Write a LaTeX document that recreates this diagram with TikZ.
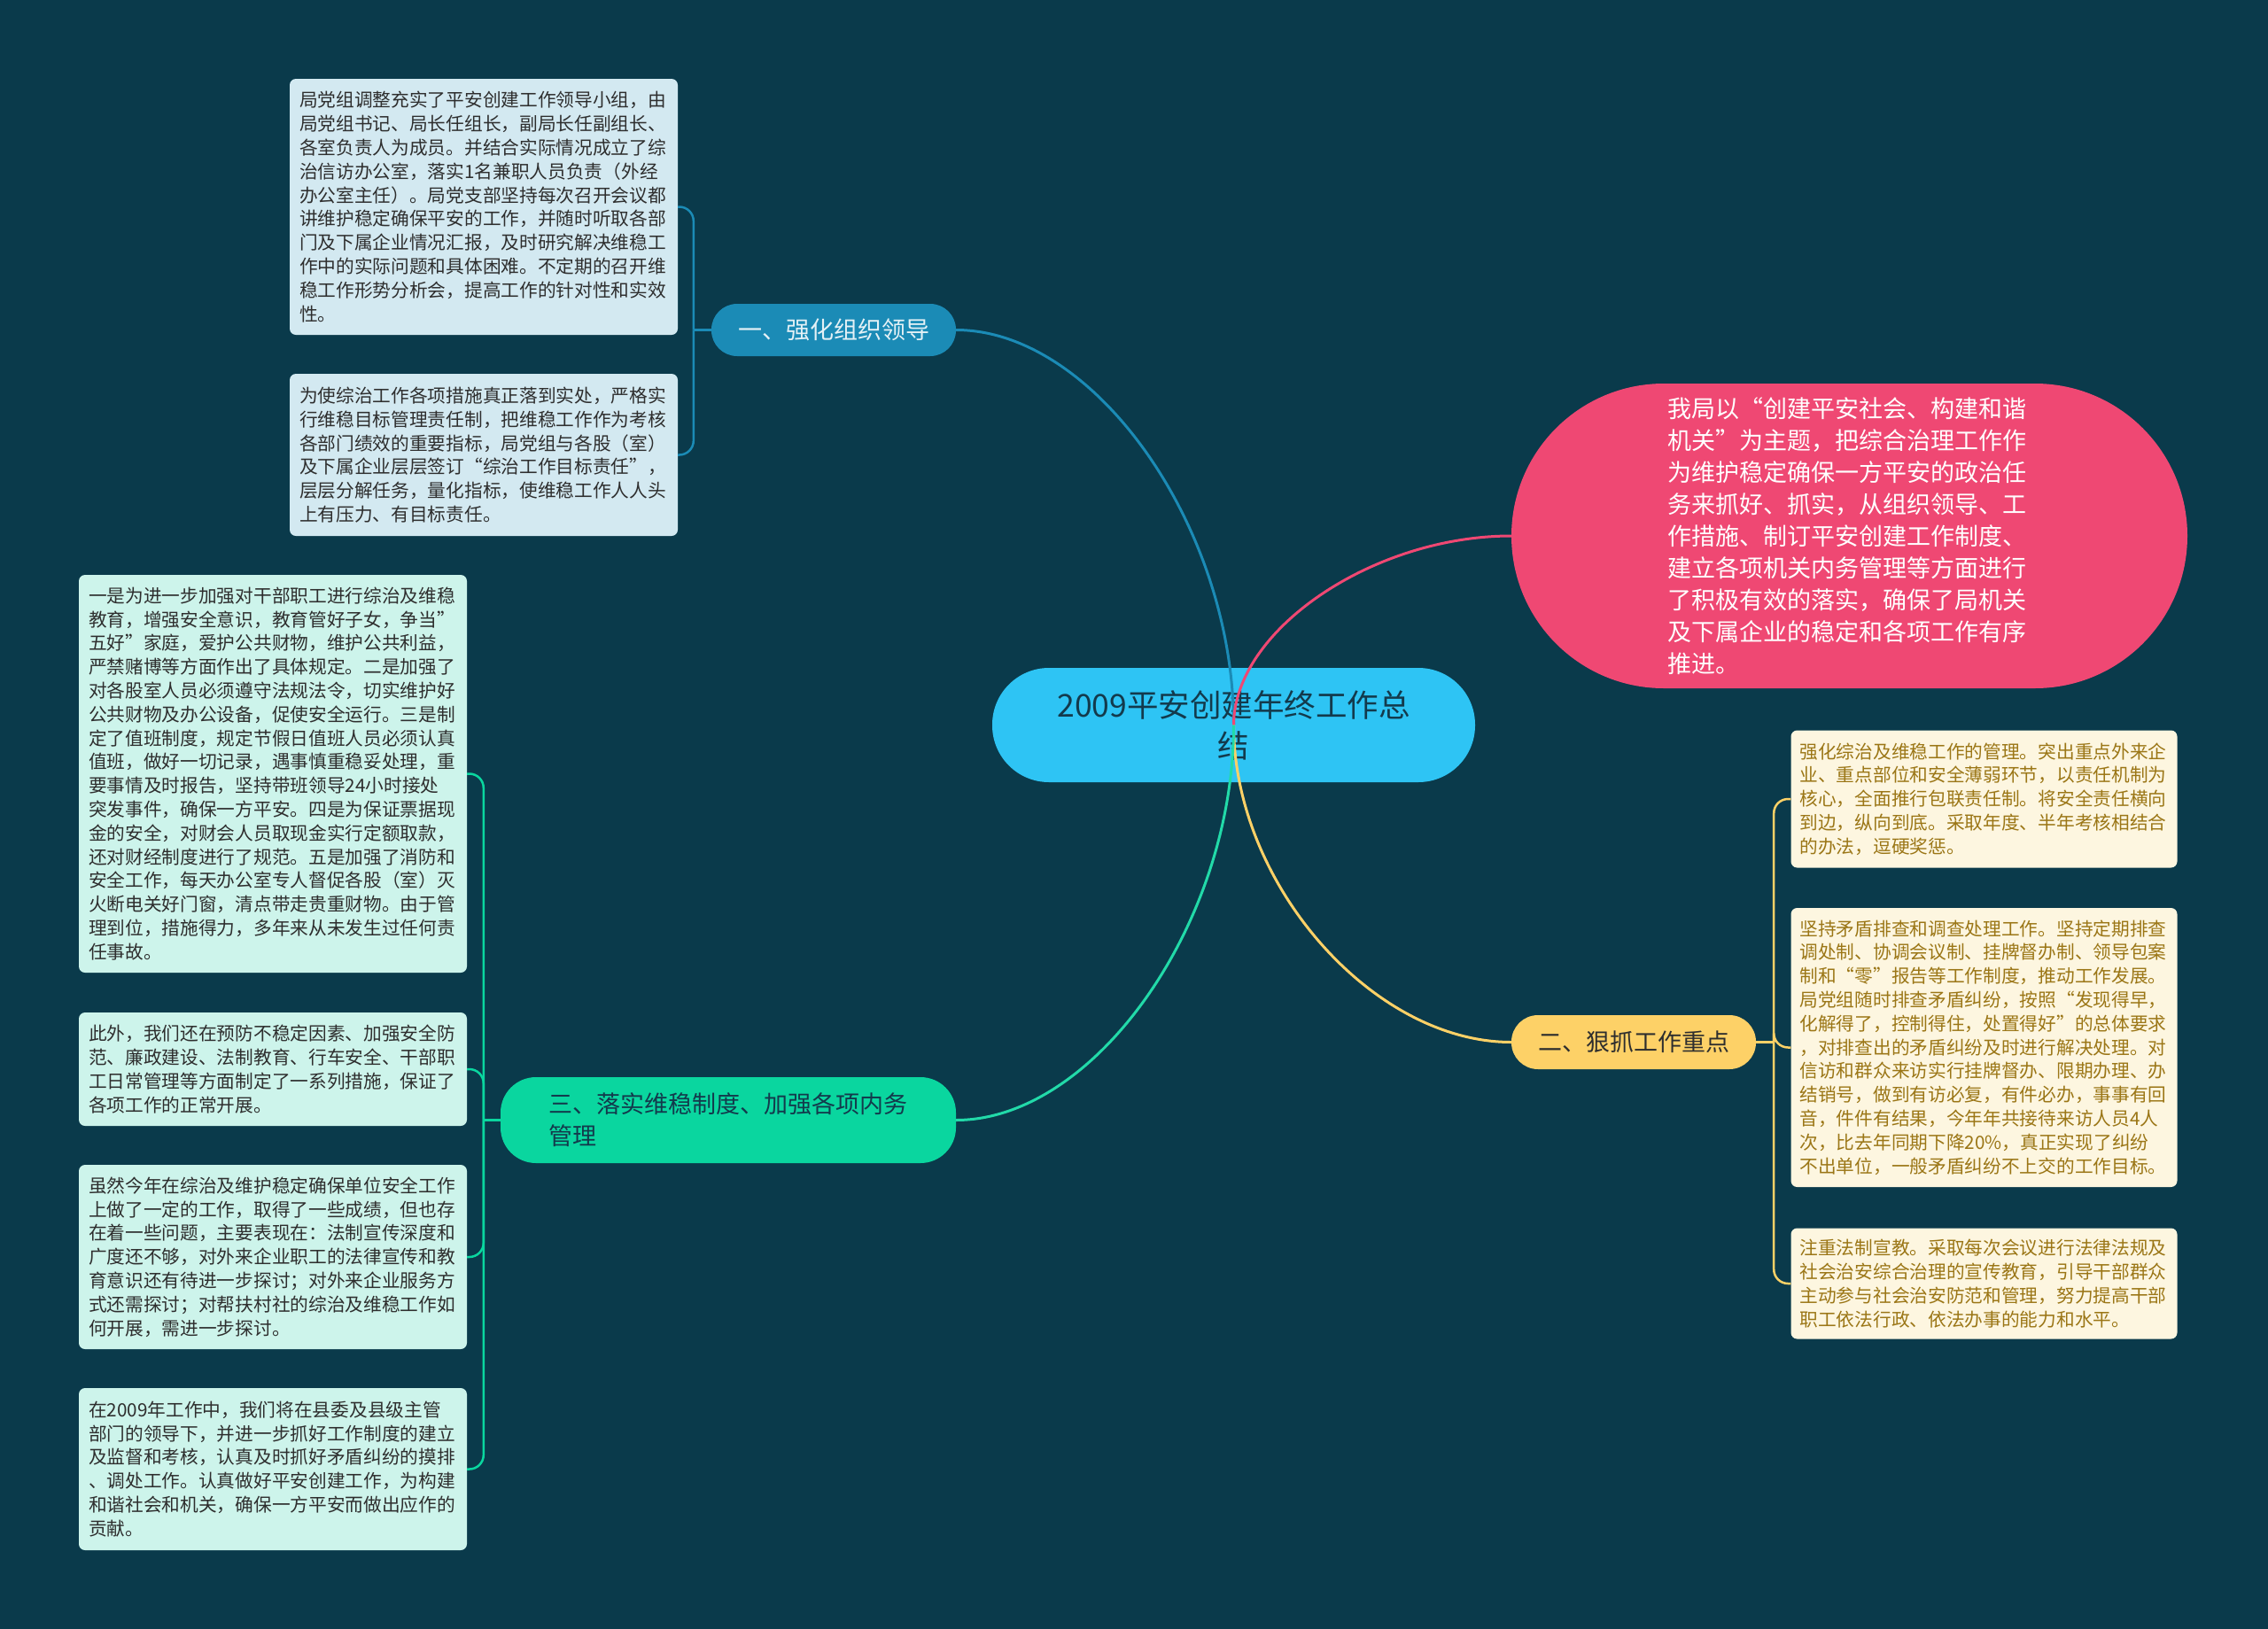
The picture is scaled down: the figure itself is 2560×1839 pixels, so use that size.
\documentclass[tikz,border=0pt]{standalone}
\usepackage{fontspec}
\setmainfont{Noto Sans CJK SC}
\usepackage{tikz}
\usetikzlibrary{calc}
\definecolor{bgnavy}{HTML}{0A3A4B}
\definecolor{hubcyan}{HTML}{2EC4F4}
\definecolor{hubtext}{HTML}{133A4C}
\definecolor{introred}{HTML}{EF4873}
\definecolor{topicblue}{HTML}{1B8BB6}
\definecolor{topicyellow}{HTML}{FDD167}
\definecolor{topicgreen}{HTML}{0AD69F}
\definecolor{leafblue}{HTML}{D3E9F1}
\definecolor{leafmint}{HTML}{CDF4EB}
\definecolor{leafcream}{HTML}{FDF6E0}
\definecolor{leaftext}{HTML}{2E2E2E}
\definecolor{creamtext}{HTML}{9B7616}

\begin{document}
\begin{tikzpicture}[x=1pt,y=-1pt,
  every node/.style={inner sep=0pt},
  hubnode/.style={fill=hubcyan,text=hubtext,rounded corners=64pt,minimum width=545pt,minimum height=129pt,align=center,font=\fontsize{35.5}{46}\selectfont},
  pillred/.style={fill=introred,text=white,rounded corners=172pt,minimum width=763pt,minimum height=344pt,text width=410pt,align=left,font=\fontsize{27}{36}\selectfont},
  topicbox/.style={font=\fontsize{27}{36}\selectfont},
  leaf/.style={rounded corners=7pt,minimum width=438pt,text width=416pt,align=left,font=\fontsize{20.7}{26.8}\selectfont},
  twig/.style={line width=2.5pt},
]
\newcommand{\branchline}[3]{\draw[line width=3pt,#1] (#2) .. controls ($(#2)!0.5!(#2 -| #3)$) and ($(#3)!0.5!(#3 |- #2)$) .. (#3);}
\fill[bgnavy] (0,0) rectangle (2560,1839);
\useasboundingbox (0,0) rectangle (2560,1839);

% centre and first level
\node[hubnode] (hub) at (1392.5,818.5) {2009平安创建年终工作总\\结};
\node[pillred] (intro) at (2087.5,605) {我局以“创建平安社会、构建和谐\\机关”为主题，把综合治理工作作\\为维护稳定确保一方平安的政治任\\务来抓好、抓实，从组织领导、工\\作措施、制订平安创建工作制度、\\建立各项机关内务管理等方面进行\\了积极有效的落实，确保了局机关\\及下属企业的稳定和各项工作有序\\推进。};
\node[topicbox,fill=topicblue,text=white!88!topicblue,minimum width=276pt,minimum height=59pt,rounded corners=29pt] (t1) at (941,372.5) {一、强化组织领导};
\node[topicbox,fill=topicyellow,text=leaftext,minimum width=276pt,minimum height=61pt,rounded corners=30pt] (t2) at (1844,1176.5) {二、狠抓工作重点};
\node[topicbox,fill=topicgreen,text=hubtext,minimum width=514pt,minimum height=97pt,rounded corners=40pt,text width=405pt,align=left] (t3) at (822,1264.5) {三、落实维稳制度、加强各项内务\\管理};

% leaves of t1
\node[leaf,fill=leafblue,text=leaftext,minimum height=289pt] (l1a) at (546,233.5) {局党组调整充实了平安创建工作领导小组，由\\局党组书记、局长任组长，副局长任副组长、\\各室负责人为成员。并结合实际情况成立了综\\治信访办公室，落实1名兼职人员负责（外经\\办公室主任）。局党支部坚持每次召开会议都\\讲维护稳定确保平安的工作，并随时听取各部\\门及下属企业情况汇报，及时研究解决维稳工\\作中的实际问题和具体困难。不定期的召开维\\稳工作形势分析会，提高工作的针对性和实效\\性。};
\node[leaf,fill=leafblue,text=leaftext,minimum height=183pt] (l1b) at (546,513.5) {为使综治工作各项措施真正落到实处，严格实\\行维稳目标管理责任制，把维稳工作作为考核\\各部门绩效的重要指标，局党组与各股（室）\\及下属企业层层签订“综治工作目标责任”，\\层层分解任务，量化指标，使维稳工作人人头\\上有压力、有目标责任。};

% leaves of t2
\node[leaf,fill=leafcream,text=creamtext,minimum width=436pt,minimum height=155pt] (r1) at (2239.5,902) {强化综治及维稳工作的管理。突出重点外来企\\业、重点部位和安全薄弱环节，以责任机制为\\核心，全面推行包联责任制。将安全责任横向\\到边，纵向到底。采取年度、半年考核相结合\\的办法，逗硬奖惩。};
\node[leaf,fill=leafcream,text=creamtext,minimum width=436pt,minimum height=315pt] (r2) at (2239.5,1182.5) {坚持矛盾排查和调查处理工作。坚持定期排查\\调处制、协调会议制、挂牌督办制、领导包案\\制和“零”报告等工作制度，推动工作发展。\\局党组随时排查矛盾纠纷，按照“发现得早，\\化解得了，控制得住，处置得好”的总体要求\\，对排查出的矛盾纠纷及时进行解决处理。对\\信访和群众来访实行挂牌督办、限期办理、办\\结销号，做到有访必复，有件必办，事事有回\\音，件件有结果，今年年共接待来访人员4人\\次，比去年同期下降20\%，真正实现了纠纷\\不出单位，一般矛盾纠纷不上交的工作目标。};
\node[leaf,fill=leafcream,text=creamtext,minimum width=436pt,minimum height=125pt] (r3) at (2239.5,1449) {注重法制宣教。采取每次会议进行法律法规及\\社会治安综合治理的宣传教育，引导干部群众\\主动参与社会治安防范和管理，努力提高干部\\职工依法行政、依法办事的能力和水平。};

% leaves of t3
\node[leaf,fill=leafmint,text=leaftext,minimum height=449pt] (l3a) at (308,873.5) {一是为进一步加强对干部职工进行综治及维稳\\教育，增强安全意识，教育管好子女，争当”\\五好”家庭，爱护公共财物，维护公共利益，\\严禁赌博等方面作出了具体规定。二是加强了\\对各股室人员必须遵守法规法令，切实维护好\\公共财物及办公设备，促使安全运行。三是制\\定了值班制度，规定节假日值班人员必须认真\\值班，做好一切记录，遇事慎重稳妥处理，重\\要事情及时报告，坚持带班领导24小时接处\\突发事件，确保一方平安。四是为保证票据现\\金的安全，对财会人员取现金实行定额取款，\\还对财经制度进行了规范。五是加强了消防和\\安全工作，每天办公室专人督促各股（室）灭\\火断电关好门窗，清点带走贵重财物。由于管\\理到位，措施得力，多年来从未发生过任何责\\任事故。};
\node[leaf,fill=leafmint,text=leaftext,minimum height=128pt] (l3b) at (308,1207) {此外，我们还在预防不稳定因素、加强安全防\\范、廉政建设、法制教育、行车安全、干部职\\工日常管理等方面制定了一系列措施，保证了\\各项工作的正常开展。};
\node[leaf,fill=leafmint,text=leaftext,minimum height=208pt] (l3c) at (308,1419) {虽然今年在综治及维护稳定确保单位安全工作\\上做了一定的工作，取得了一些成绩，但也存\\在着一些问题，主要表现在：法制宣传深度和\\广度还不够，对外来企业职工的法律宣传和教\\育意识还有待进一步探讨；对外来企业服务方\\式还需探讨；对帮扶村社的综治及维稳工作如\\何开展，需进一步探讨。};
\node[leaf,fill=leafmint,text=leaftext,minimum height=183pt] (l3d) at (308,1658.5) {在2009年工作中，我们将在县委及县级主管\\部门的领导下，并进一步抓好工作制度的建立\\及监督和考核，认真及时抓好矛盾纠纷的摸排\\、调处工作。认真做好平安创建工作，为构建\\和谐社会和机关，确保一方平安而做出应作的\\贡献。};

% brackets
\coordinate (j1) at ($(t1.west)+(-20,0)$);
\coordinate (j2) at ($(t2.east)+(20,0)$);
\coordinate (j3) at ($(t3.west)+(-19,0)$);
\draw[twig,topicblue] (t1.west) -- (j1);
\foreach \nm in {l1a,l1b}{\draw[twig,topicblue,rounded corners=16pt] (j1) |- (\nm.east);}
\draw[twig,topicyellow] (t2.east) -- (j2);
\foreach \nm in {r1,r2,r3}{\draw[twig,topicyellow,rounded corners=16pt] (j2) |- (\nm.west);}
\draw[twig,topicgreen] (t3.west) -- (j3);
\foreach \nm in {l3a,l3b,l3c,l3d}{\draw[twig,topicgreen,rounded corners=16pt] (j3) |- (\nm.east);}

% main branches
\branchline{topicblue}{t1.east}{hub.center}
\branchline{introred}{intro.west}{hub.center}
\branchline{topicyellow}{t2.west}{hub.center}
\branchline{topicgreen!90!white}{t3.east}{hub.center}
\end{tikzpicture}
\end{document}
